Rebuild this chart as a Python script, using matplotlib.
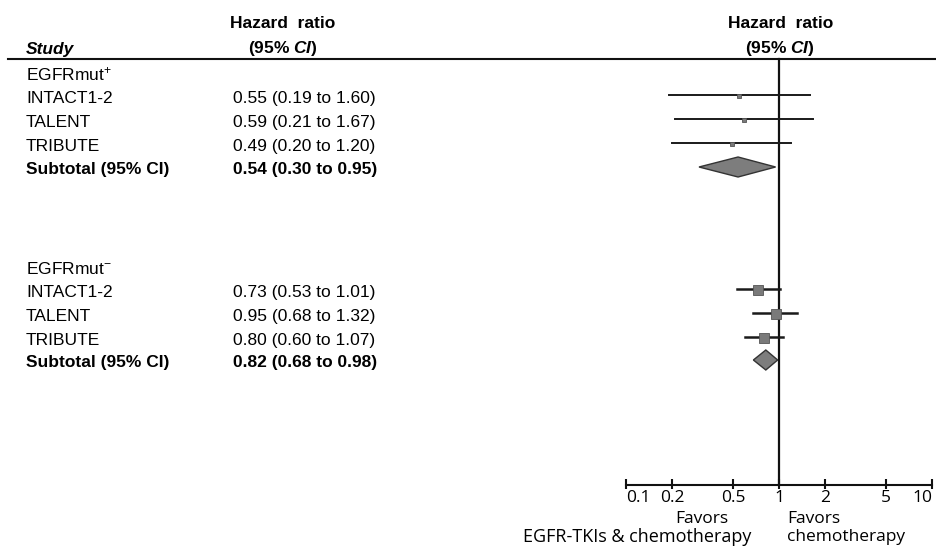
import matplotlib
matplotlib.use("Agg")
import matplotlib.pyplot as plt

plt.rcParams['font.family'] = ['Liberation Sans', 'DejaVu Sans']
plt.rcParams['mathtext.fontset'] = 'custom'
plt.rcParams['mathtext.rm'] = 'Liberation Sans'
plt.rcParams['mathtext.it'] = 'Liberation Sans:italic:bold'
plt.rcParams['mathtext.bf'] = 'Liberation Sans:bold'

# data
studies = ["INTACT1-2", "TALENT", "TRIBUTE"]
groups = ["EGFRmut$^{+}$", "EGFRmut$^{-}$"]

hr_pos = [0.55, 0.59, 0.49]
lo_pos = [0.19, 0.21, 0.20]
hi_pos = [1.60, 1.67, 1.20]
sub_pos = [0.54, 0.30, 0.95]

hr_neg = [0.73, 0.95, 0.80]
lo_neg = [0.53, 0.68, 0.60]
hi_neg = [1.01, 1.32, 1.07]
sub_neg = [0.82, 0.68, 0.98]

ticks = [0.1, 0.2, 0.5, 1, 2, 5, 10]
tick_labels = ["0.1", "0.2", "0.5", "1", "2", "5", "10"]

# layout (pixel rows, figure is 936x546)
W, H = 936, 546
group_rows = [[94.5, 118.5, 142.5], [288.5, 312.5, 336.5]]
sub_rows = [167, 360]
head_rows = [70, 264]
axis_y = 485
fs = 12.5

fig = plt.figure(figsize=(W / 100, H / 100), dpi=100)
tx = fig.add_axes([0, 0, 1, 1])
tx.set_xlim(0, W)
tx.set_ylim(H, 0)
tx.axis('off')

fx = fig.add_axes([626 / W, 0, 306 / W, 1])
fx.set_xscale('log')
fx.set_xlim(0.1, 10)
fx.set_ylim(H, 0)
fx.axis('off')

# headers
tx.text(26, 54, "Study", fontsize=fs, fontweight='bold', style='italic')
tx.text(283, 28, "Hazard  ratio", fontsize=fs, fontweight='bold', ha='center')
tx.text(283, 53, r"(95% $\mathit{CI}$)", fontsize=fs, fontweight='bold', ha='center')
fx.text(1.02, 28, "Hazard  ratio", fontsize=fs, fontweight='bold', ha='center')
fx.text(1.02, 53, r"(95% $\mathit{CI}$)", fontsize=fs, fontweight='bold', ha='center')
tx.plot([8, W], [58.5, 58.5], color='#111111', lw=1.5)

data = [(hr_pos, lo_pos, hi_pos, sub_pos), (hr_neg, lo_neg, hi_neg, sub_neg)]
msizes = [2.2, 7.8]
ci_lw = [1.4, 1.8]

for g, (hr, lo, hi, sub) in enumerate(data):
    rows = group_rows[g]
    tx.text(26, head_rows[g] + 10, groups[g], fontsize=fs, va='baseline')
    for i, name in enumerate(studies):
        y = rows[i]
        tx.text(26, y + 8.5, name, fontsize=fs, va='baseline')
        tx.text(233, y + 8.5, f"{hr[i]:.2f} ({lo[i]:.2f} to {hi[i]:.2f})",
                fontsize=fs, va='baseline')
        fx.plot([lo[i], hi[i]], [y, y], color='#1a1a1a', lw=ci_lw[g], zorder=2)
        fx.plot(hr[i], y + 1, marker='s', ms=msizes[g], color='#7a7a7a',
                mec='#555555', mew=0.6, zorder=3)
    ys = sub_rows[g]
    tx.text(26, ys + 7, "Subtotal (95% CI)", fontsize=fs, fontweight='bold', va='baseline')
    tx.text(233, ys + 7, f"{sub[0]:.2f} ({sub[1]:.2f} to {sub[2]:.2f})",
            fontsize=fs, fontweight='bold', va='baseline')
    fx.fill([sub[1], sub[0], sub[2], sub[0]], [ys, ys - 10, ys, ys + 10],
            facecolor='#7d7d7d', edgecolor='#333333', lw=1.0, zorder=3)

# line of no effect
fx.plot([1, 1], [58.5, axis_y], color='#111111', lw=1.6, zorder=1)

# x axis
fx.plot([0.1, 10], [axis_y, axis_y], color='#111111', lw=1.5, clip_on=False)
fx.vlines(ticks, axis_y - 6, axis_y + 4, color='#111111', lw=1.5, clip_on=False)
tfont = ['Open Sans', 'DejaVu Sans']
for t, lab in zip(ticks, tick_labels):
    ha = 'center'
    if t == ticks[0]:
        ha = 'left'
    elif t == ticks[-1]:
        ha = 'right'
    fx.text(t, 498, lab, fontsize=12.5, family=tfont, ha=ha, va='center')

tx.text(702, 519, "Favors", fontsize=12.5, family=tfont, ha='center', va='center')
tx.text(751, 537, "EGFR-TKIs & chemotherapy", fontsize=13, family=tfont,
        ha='right', va='center')
tx.text(787, 519, "Favors", fontsize=12.5, family=tfont, ha='left', va='center')
tx.text(787, 537, "chemotherapy", fontsize=12.5, family=tfont, ha='left', va='center')

fig.savefig("out.png", dpi=100)
